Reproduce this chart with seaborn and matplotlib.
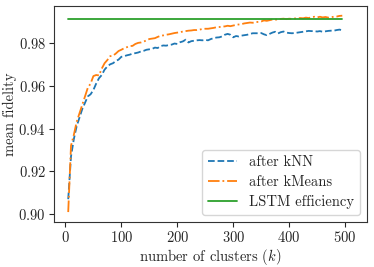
import matplotlib
matplotlib.use("Agg")
import matplotlib.pyplot as plt
import seaborn as sns
import pandas as pd

# number of clusters k
clusters = list(range(5, 500, 5))

fid_knn = [
    0.9070, 0.9270, 0.9350, 0.9410, 0.9450, 0.9490, 0.9520, 0.9550, 0.9560, 0.9580,
    0.9610, 0.9635, 0.9650, 0.9675, 0.9690, 0.9700, 0.9705, 0.9715, 0.9722, 0.9735,
    0.9738, 0.9742, 0.9745, 0.9750, 0.9752, 0.9755, 0.9760, 0.9763, 0.9768, 0.9770,
    0.9772, 0.9778, 0.9776, 0.9785, 0.9788, 0.9787, 0.9790, 0.9792, 0.9797, 0.9795,
    0.9803, 0.9807, 0.9815, 0.9802, 0.9808, 0.9810, 0.9812, 0.9813, 0.9812, 0.9814,
    0.9812, 0.9818, 0.9822, 0.9825, 0.9826, 0.9830, 0.9838, 0.9842, 0.9838, 0.9826,
    0.9832, 0.9830, 0.9834, 0.9836, 0.9838, 0.9842, 0.9845, 0.9845, 0.9845, 0.9846,
    0.9840, 0.9836, 0.9842, 0.9848, 0.9852, 0.9844, 0.9850, 0.9853, 0.9848, 0.9846,
    0.9845, 0.9846, 0.9848, 0.9850, 0.9852, 0.9854, 0.9856, 0.9855, 0.9855, 0.9853,
    0.9855, 0.9852, 0.9854, 0.9856, 0.9857, 0.9857, 0.9860, 0.9862, 0.9859,
]

fid_kmeans = [
    0.9010, 0.9320, 0.9370, 0.9430, 0.9470, 0.9510, 0.9550, 0.9590, 0.9610, 0.9645,
    0.9650, 0.9648, 0.9680, 0.9705, 0.9720, 0.9738, 0.9740, 0.9750, 0.9762, 0.9768,
    0.9775, 0.9780, 0.9785, 0.9786, 0.9795, 0.9800, 0.9802, 0.9806, 0.9812, 0.9818,
    0.9820, 0.9822, 0.9828, 0.9833, 0.9835, 0.9838, 0.9840, 0.9843, 0.9846, 0.9848,
    0.9850, 0.9853, 0.9855, 0.9857, 0.9858, 0.9860, 0.9860, 0.9862, 0.9865, 0.9866,
    0.9866, 0.9868, 0.9870, 0.9873, 0.9874, 0.9876, 0.9877, 0.9880, 0.9878, 0.9881,
    0.9884, 0.9886, 0.9888, 0.9891, 0.9893, 0.9895, 0.9894, 0.9897, 0.9898, 0.9900,
    0.9905, 0.9903, 0.9906, 0.9909, 0.9908, 0.9910, 0.9912, 0.9913, 0.9911, 0.9913,
    0.9912, 0.9914, 0.9915, 0.9916, 0.9915, 0.9918, 0.9916, 0.9920, 0.9922, 0.9919,
    0.9922, 0.9919, 0.9921, 0.9918, 0.9920, 0.9922, 0.9923, 0.9926, 0.9927,
]

lstm_eff = 0.9912

sns.set_style("ticks")
plt.rcParams["font.family"] = "serif"
plt.rcParams["font.serif"] = ["cmr10"]
plt.rcParams["mathtext.fontset"] = "cm"
plt.rcParams["axes.formatter.use_mathtext"] = True
plt.rcParams["font.size"] = 10.5

df = pd.DataFrame({"k": clusters, "knn": fid_knn, "kmeans": fid_kmeans,
                   "lstm": [lstm_eff] * len(clusters)})

fig, ax = plt.subplots(figsize=(3.74, 2.67), dpi=100)
fig.subplots_adjust(left=0.145, right=0.981, top=0.978, bottom=0.169)

sns.lineplot(data=df, x="k", y="knn", ax=ax, color="tab:blue", linestyle="--",
             linewidth=1.3, label="after kNN")
sns.lineplot(data=df, x="k", y="kmeans", ax=ax, color="tab:orange", linestyle="-.",
             linewidth=1.3, label="after kMeans")
sns.lineplot(data=df, x="k", y="lstm", ax=ax, color="tab:green", linestyle="-",
             linewidth=1.3, label="LSTM efficiency")

ax.set_xlim(-20, 539)
ax.set_xticks([0, 100, 200, 300, 400, 500])
ax.set_yticks([0.90, 0.92, 0.94, 0.96, 0.98])
ax.tick_params(labelsize=10.5, length=3.5, pad=2.5)
ax.set_xlabel(r"number of clusters ($k$)", labelpad=1)
ax.set_ylabel("mean fidelity", labelpad=1)
for s in ax.spines.values():
    s.set_color("#333333")
ax.legend(loc="lower right", fontsize=10.5, handlelength=2.0, borderpad=0.4,
          labelspacing=0.4)

fig.savefig("out.png", dpi=100)
